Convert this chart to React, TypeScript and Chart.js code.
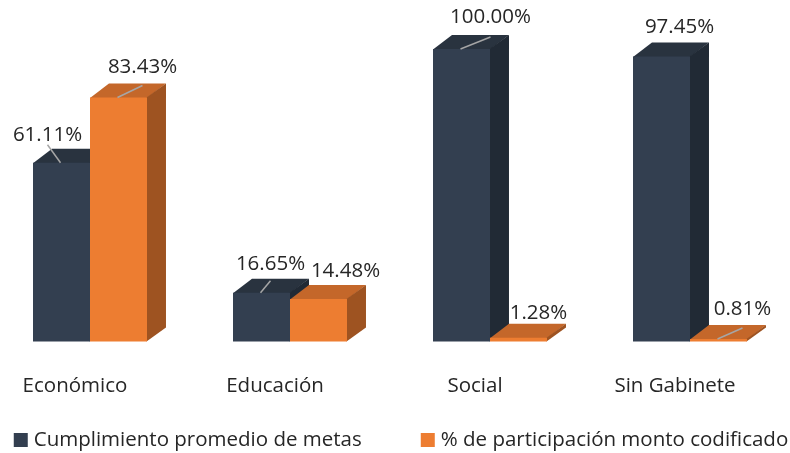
import { useEffect, useRef } from "react";
import { Chart, registerables } from "chart.js";

Chart.register(...registerables);

// ---- data ----
const categories = ["Económico", "Educación", "Social", "Sin Gabinete"];
const seriesNames = ["Cumplimiento promedio de metas", "% de participación monto codificado"];
const cumplimiento = [61.11, 16.65, 100.0, 97.45];
const participacion = [83.43, 14.48, 1.28, 0.81];
const yMin = 0;
const yMax = 100;

// ---- label placement (relative to each bar's front-top centre, px) ----
const labelOffsetsCumplimiento = [[-14, -28], [9, -29], [29, -32], [18, -29]];
const labelOffsetsParticipacion = [[24, -30], [27, -28], [20, -25], [24, -30]];
const leaderCumplimiento = [10, 17, 20, 0];
const leaderParticipacion = [18, 0, 0, 19];

// ---- styles ----
const FONT = '"Open Sans", "DejaVu Sans", sans-serif';
const FONT_WEIGHT = "400";
const FONT_SIZE = 20.5;
const TEXT_COLOR = "#262626";
const FACES = [
  { front: "#333F50", top: "#29333F", side: "#212A35" },
  { front: "#ED7D31", top: "#C4672A", side: "#9E5321" },
];
const DEPTH_X = 0.333;
const DEPTH_Y = 0.246;

const depthPlugin = {
  id: "depth3d",
  beforeDatasetsDraw(chart: any) {
    const ctx = chart.ctx;
    chart.data.datasets.forEach((_ds: any, di: number) => {
      const meta = chart.getDatasetMeta(di);
      const faces = FACES[di];
      meta.data.forEach((bar: any) => {
        const p = bar.getProps(["x", "y", "base", "width"], true);
        const l = p.x - p.width / 2;
        const r = p.x + p.width / 2;
        const top = Math.min(p.y, p.base);
        const bottom = Math.max(p.y, p.base);
        const dx = p.width * DEPTH_X;
        const dy = p.width * DEPTH_Y;
        ctx.save();
        // top face
        ctx.fillStyle = faces.top;
        ctx.beginPath();
        ctx.moveTo(l, top + 0.5);
        ctx.lineTo(l + dx, top - dy);
        ctx.lineTo(r + dx, top - dy);
        ctx.lineTo(r, top + 0.5);
        ctx.closePath();
        ctx.fill();
        // side face
        ctx.fillStyle = faces.side;
        ctx.beginPath();
        ctx.moveTo(r - 0.5, top);
        ctx.lineTo(r + dx, top - dy);
        ctx.lineTo(r + dx, bottom - dy);
        ctx.lineTo(r - 0.5, bottom);
        ctx.closePath();
        ctx.fill();
        ctx.restore();
      });
    });
  },
};

const labelPlugin = {
  id: "valueLabels",
  afterDatasetsDraw(chart: any) {
    const ctx = chart.ctx;
    const offsets = [labelOffsetsCumplimiento, labelOffsetsParticipacion];
    const leaders = [leaderCumplimiento, leaderParticipacion];
    chart.data.datasets.forEach((ds: any, di: number) => {
      const meta = chart.getDatasetMeta(di);
      meta.data.forEach((bar: any, i: number) => {
        const p = bar.getProps(["x", "y"], true);
        const lx = p.x + offsets[di][i][0];
        const ly = p.y + offsets[di][i][1];
        ctx.save();
        if (leaders[di][i] > 0) {
          ctx.strokeStyle = "#A6A6A6";
          ctx.lineWidth = 1.5;
          ctx.beginPath();
          ctx.moveTo(p.x - 1, p.y);
          ctx.lineTo(lx, ly + leaders[di][i]);
          ctx.stroke();
        }
        ctx.fillStyle = TEXT_COLOR;
        ctx.font = `${FONT_WEIGHT} ${FONT_SIZE}px ${FONT}`;
        ctx.textAlign = "center";
        ctx.textBaseline = "middle";
        ctx.fillText(ds.data[i].toFixed(2) + "%", lx, ly);
        ctx.restore();
      });
    });
  },
};

const legendPlugin = {
  id: "customLegend",
  afterDraw(chart: any) {
    const ctx = chart.ctx;
    const box = 14;
    const gap = 6;
    const spacing = 59;
    const cy = 440;
    const centerX = 411;
    ctx.save();
    ctx.font = `${FONT_WEIGHT} ${FONT_SIZE}px ${FONT}`;
    const items = chart.data.datasets.map((ds: any) => ({
      text: ds.label,
      color: ds.backgroundColor,
      w: box + gap + ctx.measureText(ds.label).width,
    }));
    const total = items.reduce((s: number, it: any) => s + it.w, 0) + spacing * (items.length - 1);
    let x = centerX - total / 2;
    items.forEach((it: any) => {
      ctx.fillStyle = it.color;
      ctx.fillRect(x, cy - box / 2, box, box);
      ctx.fillStyle = TEXT_COLOR;
      ctx.textAlign = "left";
      ctx.textBaseline = "middle";
      ctx.fillText(it.text, x + box + gap, cy);
      x += it.w + spacing;
    });
    ctx.restore();
  },
};

export default function App() {
  const ref = useRef<HTMLCanvasElement | null>(null);
  useEffect(() => {
    if (!ref.current) return;
    const chart = new Chart(ref.current, {
      type: "bar",
      data: {
        labels: categories,
        datasets: [
          {
            label: seriesNames[0],
            data: cumplimiento,
            backgroundColor: FACES[0].front,
            borderWidth: 0,
            categoryPercentage: 0.57,
            barPercentage: 1,
            clip: false as any,
          },
          {
            label: seriesNames[1],
            data: participacion,
            backgroundColor: FACES[1].front,
            borderWidth: 0,
            categoryPercentage: 0.57,
            barPercentage: 1,
            clip: false as any,
          },
        ],
      },
      options: {
        animation: false,
        responsive: false,
        maintainAspectRatio: false,
        layout: { padding: { top: 49, bottom: 23, left: 0, right: 0 } },
        plugins: {
          legend: { display: false },
          tooltip: { enabled: false },
        },
        scales: {
          x: {
            offset: true,
            grid: { display: false, drawTicks: false },
            border: { display: false },
            ticks: {
              padding: 32,
              labelOffset: -15,
              color: TEXT_COLOR,
              font: { family: FONT, size: FONT_SIZE, weight: FONT_WEIGHT as any },
            },
          },
          y: {
            display: false,
            min: yMin,
            max: yMax,
          },
        },
      },
      plugins: [depthPlugin, labelPlugin, legendPlugin],
    });
    return () => chart.destroy();
  }, []);
  return (
    <canvas
      ref={ref}
      width={800}
      height={453}
      style={{ position: "absolute", left: -10, top: 0 }}
    />
  );
}
